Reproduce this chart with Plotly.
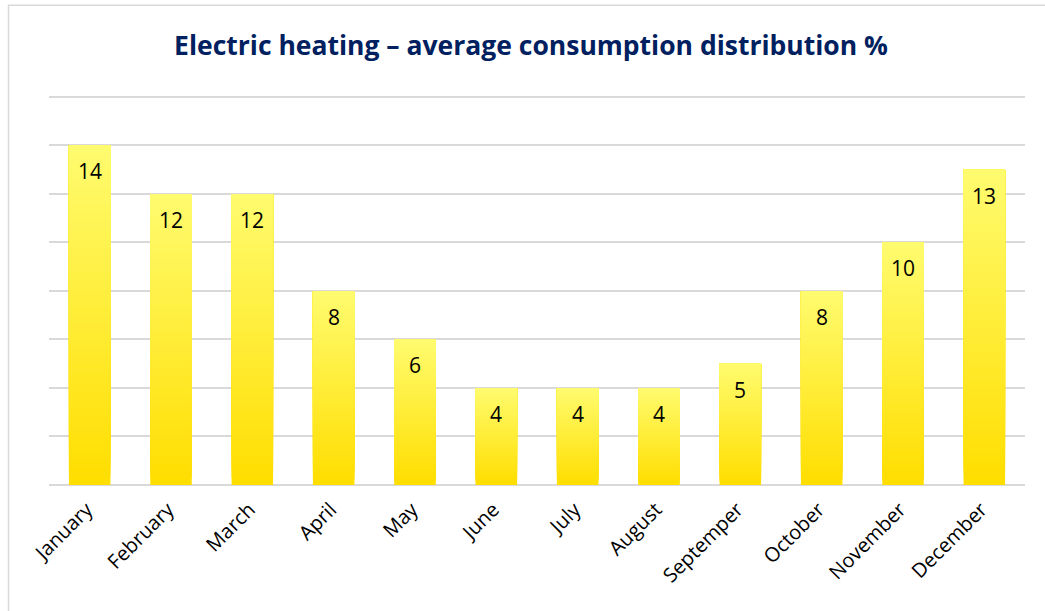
import plotly.graph_objects as go

months = ["January", "February", "March", "April", "May", "June", "July",
          "August", "Septemper", "October", "November", "December"]
values = [14, 12, 12, 8, 6, 4, 4, 4, 5, 8, 10, 13]
title_text = "Electric heating – average consumption distribution %"

W, H = 1045, 611
YMAX = 16.2
ML, MR, MB = 49, 20, 126
MT = (H - MB) - 388 * YMAX / 16

top_rgb = (255, 251, 110)
bot_rgb = (255, 222, 0)
N = 40

fig = go.Figure()
for i in range(N):
    t = i / (N - 1)
    c = tuple(round(b + (tp - b) * t) for b, tp in zip(bot_rgb, top_rgb))
    fig.add_trace(go.Bar(
        x=months,
        y=[v * (N - i) / N for v in values],
        base=[v * i / N for v in values],
        marker=dict(color="rgb(%d,%d,%d)" % c, line=dict(width=0)),
        width=0.51,
        hoverinfo="skip",
        showlegend=False,
    ))

fig.add_trace(go.Bar(
    x=months, y=values, width=0.51,
    marker=dict(color="rgba(0,0,0,0)", line=dict(width=0)),
    showlegend=False,
))

for m, v in zip(months, values):
    fig.add_annotation(x=m, y=v, text=str(v), showarrow=False,
                       yshift=-26, font=dict(size=21, color="#000000",
                                             family="Open Sans"))

pw = W - ML - MR
ph = H - MT - MB
fig.add_shape(type="rect", xref="paper", yref="paper",
              x0=(8.5 - ML) / pw, x1=(W + 20 - ML) / pw,
              y0=-(H + 20 - MT - ph) / ph, y1=1 + (MT - 5.5) / ph,
              line=dict(color="#d9d9d9", width=1.5), fillcolor="rgba(0,0,0,0)",
              layer="below")

fig.update_layout(
    width=W, height=H,
    margin=dict(l=ML, r=MR, t=MT, b=MB, autoexpand=False),
    barmode="overlay",
    bargap=0.49,
    plot_bgcolor="white", paper_bgcolor="white",
    title=dict(text="<b>" + title_text + "</b>", x=531 / W, xanchor="center",
               y=1 - 46 / H, yanchor="middle",
               font=dict(size=26.5, color="#002060", family="Open Sans")),
    xaxis=dict(tickangle=-45, showgrid=False, showline=False, ticks="",
               automargin=False, ticklabelstandoff=8, ticklabelshift=-3,
               tickfont=dict(size=20, color="#000000", family="Open Sans")),
    yaxis=dict(range=[0, YMAX], dtick=2, showticklabels=False,
               automargin=False,
               gridcolor="#d9d9d9", gridwidth=1.5, zeroline=True,
               zerolinecolor="#d9d9d9", zerolinewidth=1.5, showline=False,
               ticks=""),
    font=dict(family="Open Sans"),
)

fig.write_html("out.html",
               config={"displayModeBar": False},
               post_script="document.body.style.margin='0';document.body.style.overflow='hidden';")
